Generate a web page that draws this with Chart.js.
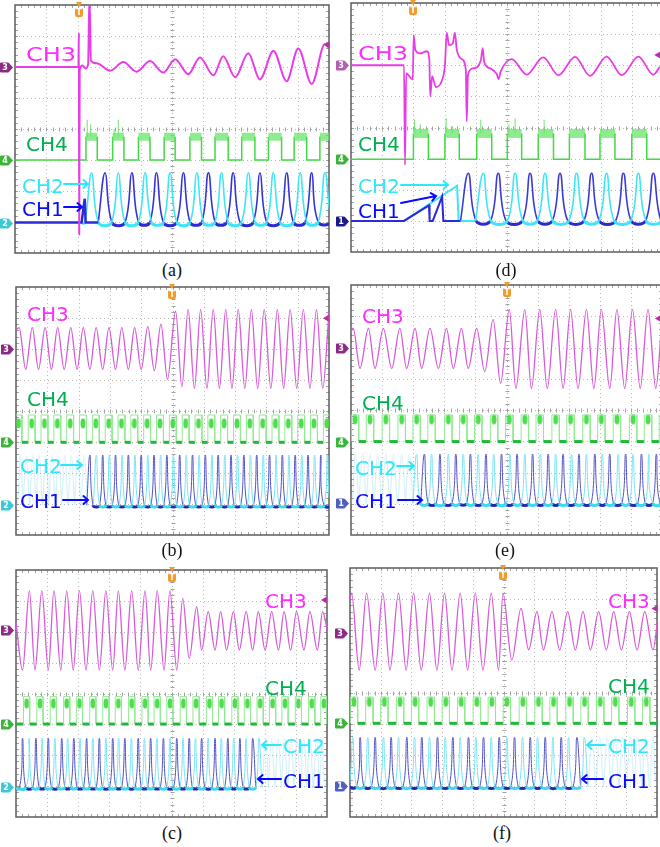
<!DOCTYPE html>
<html>
<head>
<meta charset="utf-8">
<script src="https://cdn.jsdelivr.net/npm/chart.js@4.4.1/dist/chart.umd.min.js"></script>
<style>
  body { margin: 0; width: 660px; height: 847px; overflow: hidden; background: #fff; position: relative; }
  canvas { position: absolute; }
  .lb { position: absolute; font-family: 'DejaVu Sans', sans-serif; font-size: 20px; line-height: 20px; white-space: nowrap; transform-origin: 0 0; }
  .cap { position: absolute; width: 40px; margin-left: -20px; text-align: center; font-family: 'Liberation Serif', serif; font-size: 18px; line-height: 18px; color: #111; }
  svg { position: absolute; left: 0; top: 0; }
</style>
</head>
<body>
<canvas id="pa"></canvas>
<canvas id="pd"></canvas>
<canvas id="pb"></canvas>
<canvas id="pe"></canvas>
<canvas id="pc"></canvas>
<canvas id="pf"></canvas>

<div class="lb" style="left:26px;top:44px;color:#ff2cff;transform:scaleX(1.2)">CH3</div>
<div class="lb" style="left:26px;top:134px;color:#00b050">CH4</div>
<div class="lb" style="left:22px;top:176px;color:#2ee8f8">CH2</div>
<div class="lb" style="left:22px;top:199px;color:#0a0aff">CH1</div>

<div class="lb" style="left:358px;top:43px;color:#ff2cff;transform:scaleX(1.2)">CH3</div>
<div class="lb" style="left:358px;top:134px;color:#00b050">CH4</div>
<div class="lb" style="left:358px;top:176px;color:#2ee8f8">CH2</div>
<div class="lb" style="left:358px;top:201px;color:#0a0aff">CH1</div>

<div class="lb" style="left:27px;top:304px;color:#ff2cff">CH3</div>
<div class="lb" style="left:27px;top:389px;color:#00b050">CH4</div>
<div class="lb" style="left:20px;top:456px;color:#2ee8f8">CH2</div>
<div class="lb" style="left:20px;top:491px;color:#0a0aff">CH1</div>

<div class="lb" style="left:362px;top:306px;color:#ff2cff">CH3</div>
<div class="lb" style="left:362px;top:393px;color:#00b050">CH4</div>
<div class="lb" style="left:355px;top:458px;color:#2ee8f8">CH2</div>
<div class="lb" style="left:355px;top:491px;color:#0a0aff">CH1</div>

<div class="lb" style="left:265px;top:591px;color:#ff2cff">CH3</div>
<div class="lb" style="left:265px;top:678px;color:#00b050">CH4</div>
<div class="lb" style="left:283px;top:736px;color:#2ee8f8">CH2</div>
<div class="lb" style="left:283px;top:771px;color:#0a0aff">CH1</div>

<div class="lb" style="left:608px;top:591px;color:#ff2cff">CH3</div>
<div class="lb" style="left:608px;top:676px;color:#00b050">CH4</div>
<div class="lb" style="left:608px;top:736px;color:#2ee8f8">CH2</div>
<div class="lb" style="left:608px;top:771px;color:#0a0aff">CH1</div>

<div class="cap" style="left:172px;top:261px">(a)</div>
<div class="cap" style="left:506px;top:261px">(d)</div>
<div class="cap" style="left:172px;top:541px">(b)</div>
<div class="cap" style="left:505px;top:541px">(e)</div>
<div class="cap" style="left:172px;top:824px">(c)</div>
<div class="cap" style="left:502px;top:824px">(f)</div>

<svg id="arrows" width="660" height="847"></svg>

<script>
// ---------- data (time in divisions 0..10, level in divisions 0..8) ----------

// (a)
const aCh3T = [0, 2.02, 2.035, 2.045, 2.06, 2.15, 2.25, 2.33, 2.37, 2.42, 2.60, 3.03, 3.45, 3.87, 4.30, 4.72, 5.10, 5.52, 5.89, 6.32, 6.63, 7.01, 7.43, 7.80, 8.23, 8.65, 9.02, 9.45, 9.87, 10];
const aCh3V = [6.0, 6.0, 7.1, 0.6, 5.9, 6.05, 5.95, 6.1, 8.3, 6.2, 6.12, 5.88, 6.16, 5.85, 6.19, 5.82, 6.25, 5.77, 6.31, 5.73, 6.35, 5.67, 6.44, 5.60, 6.52, 5.54, 6.60, 5.45, 6.74, 6.62];
const aCh4Up = [2.26, 3.11, 3.93, 4.75, 5.57, 6.37, 7.22, 8.07, 8.89, 9.71];
const aCh4Dn = [2.62, 3.47, 4.30, 5.10, 5.94, 6.79, 7.64, 8.49, 9.29, 10.1];
const aCh4Lv = [3.0, 3.75];
const aCh4SpkT = [2.30, 2.41, 3.16, 3.29];
const aCh4SpkV = [4.3, 4.15, 4.0, 4.3];
const aCh1LeadT = [0, 2.12, 2.22, 2.25, 2.65];
const aCh1LeadV = [0.98, 0.98, 1.75, 0.98, 0.98];
const aCh1Pk = [2.87, 3.72, 4.51, 5.36, 6.16, 6.95, 7.80, 8.65, 9.45];
const aCh2Pk = [2.44, 3.29, 4.14, 4.94, 5.79, 6.58, 7.43, 8.23, 9.08, 9.87];
const aCh12Lv = [0.98, 2.59];

// (d)
const dCh3T = [0, 1.70, 1.73, 1.77, 1.89, 1.98, 2.01, 2.06, 2.21, 2.43, 2.51, 2.54, 2.60, 2.72, 2.91, 3.01, 3.07, 3.14, 3.26, 3.33, 3.39, 3.55, 3.68, 3.71, 3.75, 3.92, 4.16, 4.22, 4.27, 4.46, 4.67, 4.73, 4.80, 5.15, 5.63, 6.16, 6.65, 7.18, 7.66, 8.19, 8.68, 9.21, 9.69, 9.90];
const dCh3V = [6.0, 6.0, 2.8, 5.75, 5.62, 5.55, 6.97, 6.5, 6.38, 6.45, 6.2, 5.0, 5.65, 5.3, 5.5, 6.0, 7.05, 6.65, 6.7, 7.05, 6.5, 6.2, 5.85, 4.2, 5.7, 5.9, 6.15, 6.55, 6.1, 5.9, 5.72, 5.55, 5.8, 6.2, 5.7, 6.25, 5.68, 6.27, 5.66, 6.28, 5.68, 6.28, 5.7, 5.95];
const dCh4Up = [2.0, 3.01, 4.03, 5.01, 6.0, 7.0, 7.98, 9.0];
const dCh4Dn = [2.48, 3.47, 4.51, 5.47, 6.49, 7.5, 8.46, 9.48];
const dCh4Lv = [2.98, 3.81];
const dCh4SpkT = [2.04, 2.22, 3.05, 3.26, 4.16, 5.06, 5.26, 6.19];
const dCh4SpkV = [4.25, 4.1, 4.3, 4.05, 4.25, 4.1, 4.3, 4.25];
const dCh1LeadT = [0, 1.70, 2.50, 2.52, 2.62, 2.92, 2.96, 3.51];
const dCh1LeadV = [1.0, 1.0, 1.5, 1.0, 1.0, 1.78, 1.0, 1.0];
const dCh2LeadT = [1.70, 3.40, 3.45, 3.99];
const dCh2LeadV = [1.0, 2.13, 1.0, 1.0];
const dCh1Pk = [3.76, 4.72, 5.74, 6.70, 7.71, 8.73, 9.69];
const dCh2Pk = [4.24, 5.26, 6.22, 7.23, 8.19, 9.21, 10.2];
const dCh12Lv = [1.0, 2.53];

// (b)
const bCh3T = [0, 0.10, 0.31, 0.52, 0.72, 0.93, 1.13, 1.33, 1.54, 1.75, 1.95, 2.15, 2.36, 2.56, 2.77, 2.97, 3.18, 3.38, 3.59, 3.79, 4.00, 4.21, 4.42, 4.63, 4.84, 5.10, 5.30, 5.50, 5.70, 5.90, 6.10, 6.30, 6.50, 6.70, 6.90, 7.10, 7.31, 7.52, 7.72, 7.93, 8.14, 8.35, 8.55, 8.76, 8.97, 9.18, 9.39, 9.60, 9.80, 10.0];
const bCh3V = [6.6, 6.69, 5.34, 6.69, 5.34, 6.69, 5.34, 6.69, 5.34, 6.69, 5.34, 6.69, 5.34, 6.69, 5.34, 6.69, 5.34, 6.69, 5.34, 6.69, 5.34, 6.72, 5.30, 6.80, 5.02, 7.22, 4.78, 7.28, 4.73, 7.28, 4.73, 7.28, 4.73, 7.28, 4.73, 7.28, 4.73, 7.28, 4.73, 7.28, 4.73, 7.28, 4.73, 7.28, 4.73, 7.28, 4.73, 7.28, 4.73, 7.20];
const bCh4C = [0.08, 0.50, 0.91, 1.32, 1.73, 2.14, 2.55, 2.96, 3.37, 3.78, 4.19, 4.60, 5.01, 5.42, 5.83, 6.24, 6.65, 7.06, 7.47, 7.88, 8.29, 8.70, 9.11, 9.52, 9.93];
const bCh4Lv = [2.99, 3.87, 3.6];
const bCh1Pk = [2.36, 2.77, 3.18, 3.59, 4.00, 4.41, 4.82, 5.23, 5.64, 6.05, 6.46, 6.87, 7.28, 7.69, 8.10, 8.51, 8.92, 9.33, 9.74];
const bCh2Pk = [2.57, 2.98, 3.39, 3.80, 4.21, 4.62, 5.03, 5.44, 5.85, 6.26, 6.67, 7.08, 7.49, 7.90, 8.31, 8.72, 9.13, 9.54, 9.95];
const bFaintPk = [0.13, 0.33, 0.54, 0.74, 0.95, 1.15, 1.36, 1.56, 1.77, 1.97, 2.18];
const bCh12Lv = [0.96, 2.58];

// (e)
const eCh3T = [0, 0.07, 0.29, 0.56, 0.77, 1.04, 1.31, 1.57, 1.79, 2.06, 2.27, 2.54, 2.81, 3.07, 3.29, 3.55, 3.77, 4.04, 4.30, 4.57, 4.81, 5.09, 5.30, 5.59, 5.80, 6.07, 6.31, 6.58, 6.82, 7.06, 7.30, 7.57, 7.81, 8.05, 8.32, 8.55, 8.80, 9.05, 9.30, 9.55, 9.80, 10.0];
const eCh3V = [6.5, 6.61, 5.33, 6.61, 5.33, 6.61, 5.33, 6.61, 5.33, 6.61, 5.33, 6.61, 5.33, 6.61, 5.33, 6.61, 5.33, 6.61, 5.23, 6.90, 4.85, 7.22, 4.69, 7.22, 4.69, 7.22, 4.69, 7.22, 4.69, 7.22, 4.69, 7.22, 4.69, 7.22, 4.69, 7.22, 4.69, 7.22, 4.69, 7.22, 4.69, 6.9];
const eCh4C = [0.13, 0.61, 1.12, 1.63, 2.11, 2.59, 3.13, 3.61, 4.09, 4.60, 5.09, 5.59, 6.07, 6.58, 7.06, 7.57, 8.05, 8.55, 9.07, 9.55, 10.03];
const eCh4Lv = [2.99, 3.84, 3.7];
const eCh1Pk = [2.36, 2.86, 3.37, 3.84, 4.34, 4.84, 5.34, 5.84, 6.34, 6.82, 7.33, 7.84, 8.32, 8.83, 9.34, 9.82];
const eCh2Pk = [2.11, 2.59, 3.13, 3.61, 4.09, 4.59, 5.11, 5.59, 6.09, 6.58, 7.09, 7.57, 8.08, 8.59, 9.07, 9.58];
const eFaintPk = [0.13, 0.37, 0.61, 0.86, 1.12, 1.37, 1.63, 1.87];
const eCh12Lv = [1.01, 2.59];

// (c)
const cCh3T = [0, 0.21, 0.43, 0.61, 0.83, 1.04, 1.22, 1.44, 1.63, 1.84, 2.04, 2.25, 2.47, 2.68, 2.89, 3.11, 3.29, 3.50, 3.72, 3.93, 4.15, 4.33, 4.54, 4.76, 4.95, 5.17, 5.36, 5.57, 5.81, 5.97, 6.18, 6.40, 6.58, 6.77, 6.99, 7.18, 7.40, 7.61, 7.79, 8.01, 8.22, 8.44, 8.62, 8.83, 9.02, 9.26, 9.45, 9.69, 9.86, 10.0];
const cCh3V = [6.3, 4.76, 7.33, 4.76, 7.33, 4.76, 7.33, 4.76, 7.33, 4.76, 7.33, 4.76, 7.33, 4.76, 7.33, 4.76, 7.33, 4.76, 7.33, 4.76, 7.33, 4.76, 7.33, 4.76, 7.33, 4.76, 7.08, 5.14, 6.81, 5.41, 6.65, 5.41, 6.65, 5.41, 6.65, 5.41, 6.65, 5.41, 6.65, 5.41, 6.65, 5.41, 6.65, 5.41, 6.65, 5.41, 6.65, 5.41, 6.65, 6.1];
const cCh4C = [0.34, 0.77, 1.20, 1.63, 2.04, 2.47, 2.89, 3.29, 3.72, 4.15, 4.54, 4.95, 5.38, 5.79, 6.22, 6.61, 7.04, 7.44, 7.85, 8.25, 8.65, 9.08, 9.51, 9.90];
const cCh4Lv = [3.01, 3.9, 3.68];
const cCh1Pk = [0.21, 0.64, 1.04, 1.47, 1.86, 2.27, 2.68, 3.11, 3.50, 3.93, 4.33, 4.74, 5.17, 5.57, 5.97, 6.40, 6.81, 7.20, 7.61];
const cCh2Pk = [0.42, 0.84, 1.25, 1.66, 2.06, 2.47, 2.89, 3.30, 3.71, 4.13, 4.53, 4.95, 5.37, 5.77, 6.18, 6.60, 7.00, 7.40, 7.81];
const cFaintPk = [8.02, 8.22, 8.43, 8.63, 8.84, 9.04, 9.25, 9.45, 9.66, 9.86];
const cCh12Lv = [0.96, 2.55];

// (f)
const fCh3T = [0, 0.05, 0.30, 0.54, 0.82, 1.07, 1.30, 1.58, 1.83, 2.07, 2.32, 2.59, 2.83, 3.08, 3.32, 3.59, 3.83, 4.08, 4.33, 4.60, 4.84, 4.98, 5.27, 5.57, 5.82, 6.09, 6.30, 6.58, 6.83, 7.09, 7.34, 7.59, 7.83, 8.10, 8.35, 8.59, 8.84, 9.10, 9.35, 9.60, 9.87, 10.05];
const fCh3V = [7.0, 7.19, 4.72, 7.19, 4.72, 7.19, 4.72, 7.19, 4.72, 7.19, 4.72, 7.19, 4.72, 7.19, 4.72, 7.19, 4.72, 7.19, 4.72, 7.19, 4.72, 7.19, 5.04, 6.70, 5.37, 6.60, 5.37, 6.60, 5.37, 6.60, 5.37, 6.60, 5.37, 6.60, 5.37, 6.60, 5.37, 6.60, 5.37, 6.60, 5.37, 6.60];
const fCh4C = [0.13, 0.63, 1.12, 1.63, 2.12, 2.63, 3.12, 3.62, 4.13, 4.62, 5.11, 5.63, 6.14, 6.63, 7.15, 7.64, 8.15, 8.64, 9.16, 9.65];
const fCh4Lv = [3.01, 3.85, 3.7];
const fCh1Pk = [0.33, 0.82, 1.34, 1.85, 2.34, 2.85, 3.35, 3.86, 4.35, 4.86, 5.36, 5.87, 6.36, 6.88, 7.39];
const fCh2Pk = [0.09, 0.58, 1.09, 1.58, 2.10, 2.59, 3.10, 3.59, 4.10, 4.60, 5.11, 5.62, 6.11, 6.61, 7.12, 7.63];
const fFaintPk = [7.88, 8.13, 8.38, 8.63, 8.88, 9.13, 9.38, 9.63, 9.88];
const fCh12Lv = [0.98, 2.56];

// ---------- helpers ----------
const pts = (t, v) => t.map((x, i) => ({ x, y: v[i] }));

function L(data, color, width, more) {
  return Object.assign({ data, borderColor: color, borderWidth: width, pointRadius: 0, fill: false, tension: 0, spanGaps: false }, more || {});
}

function squares(up, dn, lv) {
  const o = [{ x: -0.3, y: lv[0] }];
  up.forEach((u, i) => o.push({ x: u, y: lv[0] }, { x: u, y: lv[1] }, { x: dn[i], y: lv[1] }, { x: dn[i], y: lv[0] }));
  o.push({ x: 10.3, y: lv[0] });
  return o;
}

function spikes(t, v, base) {
  const o = [];
  t.forEach((x, i) => o.push({ x, y: base }, { x, y: v[i] }, { x, y: null }));
  return o;
}

function humps(pk, lv, hw, x0, x1) {
  const o = [];
  if (x0 != null) o.push({ x: x0, y: lv[0] });
  pk.forEach(p => o.push({ x: p - hw, y: lv[0] }, { x: p, y: lv[1] }, { x: p + hw, y: lv[0] }));
  if (x1 != null) o.push({ x: x1, y: lv[0] });
  return o;
}

const level = (s, v) => s.p0.parsed.y === v && s.p1.parsed.y === v;

function blobImg(w, h, color) {
  const c = document.createElement('canvas');
  c.width = w; c.height = h;
  const g = c.getContext('2d');
  g.fillStyle = color;
  g.beginPath();
  g.ellipse(w / 2, h / 2, w / 2 - 0.5, h / 2 - 0.5, 0, 0, Math.PI * 2);
  g.fill();
  return c;
}
const blob = blobImg(6, 11, '#4fdc4f');

function ch4Bright(up, dn, lv, spT, spV, band) {
  return [
    L(squares(up, dn, lv), '#44d844', 1.5, {
      order: 4,
      segment: {
        borderWidth: s => level(s, lv[1]) ? band : undefined,
        borderColor: s => level(s, lv[1]) ? 'rgba(105,228,105,0.75)' : undefined
      }
    }),
    L(spikes(spT, spV, lv[1]), '#74e274', 1, { order: 4 })
  ];
}

function ch4Dense(c, hw, lv) {
  const up = c.map(v => v - hw), dn = c.map(v => v + hw);
  return [
    L(squares(up, dn, lv), '#92ea92', 1, {
      order: 4,
      segment: {
        borderWidth: s => level(s, lv[0]) ? 3 : undefined,
        borderColor: s => level(s, lv[0]) ? '#1fb83a' : undefined
      }
    }),
    L(c.map(v => ({ x: v, y: lv[2] })), '#4fdc4f', 0, { showLine: false, pointRadius: 5, pointStyle: blob, order: 4 })
  ];
}

// rounded pulse trains: bezier tension gives steep flanks and a round top
function pulseSet(data, lv, color, baseColor, w, bw, order) {
  return L(data, color, w, {
    tension: 0.4, order,
    segment: {
      borderWidth: s => level(s, lv[0]) ? bw : undefined,
      borderColor: s => level(s, lv[0]) ? baseColor : undefined
    }
  });
}

function ch12Dense(pk1, pk2, faint, hw, lv, pre) {
  const start = Math.min(pk1[0], pk2[0]) - hw;
  const end = Math.max(pk1[pk1.length - 1], pk2[pk2.length - 1]) + hw;
  return [
    pulseSet(humps(pk2, lv, hw, pre ? null : -0.2, pre ? 10.3 : null), lv, '#7ae4f3', '#3cd8ec', 1, 3, 2),
    pulseSet(humps(pk1, lv, hw, pre ? null : -0.2, pre ? 10.3 : null), lv, '#5252c6', '#2626b4', 1, 3, 3),
    L(humps(faint, lv, hw, pre ? -0.2 : end, pre ? start : 10.3), 'rgba(130,210,240,0.32)', 1.2, { tension: 0.4, order: 5 })
  ];
}

// ---------- scope look: grid, frame, channel markers ----------
const scopePlugin = {
  id: 'scope',
  beforeDatasetsDraw(chart) {
    const { ctx, chartArea: a, scales: { x, y } } = chart;
    ctx.save();
    ctx.lineWidth = 1;
    ctx.strokeStyle = '#b9b9b9';
    ctx.setLineDash([1, 3]);
    ctx.beginPath();
    for (let i = 1; i < 10; i++) {
      const px = Math.round(x.getPixelForValue(i)) + 0.5;
      ctx.moveTo(px, a.top); ctx.lineTo(px, a.bottom);
    }
    for (let j = 1; j < 8; j++) {
      const py = Math.round(y.getPixelForValue(j)) + 0.5;
      ctx.moveTo(a.left, py); ctx.lineTo(a.right, py);
    }
    ctx.stroke();
    ctx.setLineDash([]);
    ctx.strokeStyle = '#a2a2a2';
    ctx.beginPath();
    const cx = Math.round(x.getPixelForValue(5)) + 0.5;
    const cy = Math.round(y.getPixelForValue(4)) + 0.5;
    for (let k = 1; k < 50; k++) {
      const px = Math.round(x.getPixelForValue(k / 5)) + 0.5;
      ctx.moveTo(px, cy - 2); ctx.lineTo(px, cy + 2);
      ctx.moveTo(px, a.top); ctx.lineTo(px, a.top + 3);
      ctx.moveTo(px, a.bottom); ctx.lineTo(px, a.bottom - 3);
    }
    for (let k = 1; k < 40; k++) {
      const py = Math.round(y.getPixelForValue(k / 5)) + 0.5;
      ctx.moveTo(cx - 2, py); ctx.lineTo(cx + 2, py);
      ctx.moveTo(a.left, py); ctx.lineTo(a.left + 3, py);
      ctx.moveTo(a.right, py); ctx.lineTo(a.right - 3, py);
    }
    ctx.stroke();
    ctx.strokeStyle = '#5c5c5c';
    ctx.lineWidth = 1.5;
    ctx.strokeRect(a.left, a.top, a.width, a.height);
    ctx.restore();
  },
  afterDraw(chart, args, o) {
    const { ctx, chartArea: a, scales: { x, y } } = chart;
    ctx.save();
    ctx.font = 'bold 8px "DejaVu Sans"';
    ctx.textAlign = 'center';
    ctx.textBaseline = 'middle';
    (o.marks || []).forEach(m => {
      const py = Math.round(y.getPixelForValue(m.v)) + 0.5;
      const l = a.left - 14.5;
      ctx.beginPath();
      ctx.moveTo(l, py - 4.5); ctx.lineTo(l + 8, py - 4.5); ctx.lineTo(l + 12, py);
      ctx.lineTo(l + 8, py + 4.5); ctx.lineTo(l, py + 4.5); ctx.closePath();
      ctx.fillStyle = m.fill ? m.c : '#fff';
      ctx.fill();
      ctx.lineWidth = 1;
      ctx.strokeStyle = m.c;
      ctx.stroke();
      ctx.fillStyle = m.fill ? '#fff' : m.c;
      ctx.fillText(m.t, l + 4.5, py + 0.5);
    });
    const tx = Math.round(x.getPixelForValue(o.trig));
    ctx.fillStyle = '#f39a2a';
    ctx.beginPath();
    ctx.moveTo(tx - 3, a.top - 3); ctx.lineTo(tx + 3, a.top - 3); ctx.lineTo(tx, a.top + 2); ctx.closePath();
    ctx.fill();
    ctx.beginPath();
    ctx.roundRect(tx - 4, a.top + 3, 8, 9, 2);
    ctx.fill();
    ctx.fillStyle = '#fff';
    ctx.fillText('T', tx, a.top + 8);
    const rx = x.getPixelForValue(o.rx), ry = y.getPixelForValue(o.ry);
    ctx.fillStyle = '#b8309f';
    ctx.beginPath();
    ctx.moveTo(rx - 4, ry); ctx.lineTo(rx + 2, ry - 3.5); ctx.lineTo(rx + 2, ry + 3.5); ctx.closePath();
    ctx.fill();
    ctx.restore();
  }
};

function scope(id, box, datasets, deco) {
  const cv = document.getElementById(id);
  cv.width = box[2] + 22;
  cv.height = box[3] + 12;
  cv.style.left = (box[0] - 16) + 'px';
  cv.style.top = (box[1] - 6) + 'px';
  return new Chart(cv, {
    type: 'line',
    data: { datasets },
    options: {
      responsive: false,
      animation: false,
      events: [],
      layout: { padding: { left: 16, top: 6, right: 6, bottom: 6 } },
      plugins: { legend: { display: false }, tooltip: { enabled: false }, scope: deco },
      scales: {
        x: { type: 'linear', min: 0, max: 10, display: false },
        y: { type: 'linear', min: 0, max: 8, display: false }
      }
    },
    plugins: [scopePlugin]
  });
}

// plot boxes in page pixels: left, top, width, height
const boxes = {
  a: [15, 5, 314, 248],
  d: [351, 3, 312, 249],
  b: [16, 287, 313, 248],
  e: [351, 285, 311, 250],
  c: [16, 570, 311, 247],
  f: [350, 568, 307, 249]
};

const purple = '#8e2a86', green4 = '#3cb43c', cyan2 = '#3cc8d8', navy1 = '#1a1a8a';

scope('pa', boxes.a, [
  L(pts(aCh3T, aCh3V), '#e83ce8', 2, { cubicInterpolationMode: 'monotone', order: 0 }),
  ...ch4Bright(aCh4Up, aCh4Dn, aCh4Lv, aCh4SpkT, aCh4SpkV, 8),
  L(pts(aCh1LeadT, aCh1LeadV), '#2b2bd9', 2.5, { order: 1 }),
  pulseSet(humps(aCh2Pk, aCh12Lv, 0.22, 2.1, 10.3), aCh12Lv, '#3ee6f5', '#3ee6f5', 1.6, 3, 2),
  pulseSet(humps(aCh1Pk, aCh12Lv, 0.22, null, 10.3), aCh12Lv, '#3434d6', '#2b2bd0', 1.6, 3, 3)
], { trig: 2.04, rx: 9.95, ry: 6.72, marks: [
  { v: 6.0, t: '3', c: purple, fill: true }, { v: aCh4Lv[0], t: '4', c: green4 }, { v: aCh12Lv[0], t: '2', c: cyan2 }] });

scope('pd', boxes.d, [
  L(pts(dCh3T, dCh3V), '#e83ce8', 1.8, { cubicInterpolationMode: 'monotone', order: 0 }),
  ...ch4Bright(dCh4Up, dCh4Dn, dCh4Lv, dCh4SpkT, dCh4SpkV, 9),
  L(pts(dCh1LeadT, dCh1LeadV), '#2b2bd9', 2, { order: 1 }),
  L(pts(dCh2LeadT, dCh2LeadV), '#3ee6f5', 2, { order: 1.5 }),
  pulseSet(humps(dCh2Pk, dCh12Lv, 0.25, null, 10.3), dCh12Lv, '#3ee6f5', '#3ee6f5', 1.6, 3, 2),
  pulseSet(humps(dCh1Pk, dCh12Lv, 0.25, null, 10.3), dCh12Lv, '#3a3ad6', '#2b2bd0', 1.6, 3, 3)
], { trig: 2.0, rx: 9.85, ry: 6.33, marks: [
  { v: 6.0, t: '3', c: '#b060b0' }, { v: dCh4Lv[0], t: '4', c: green4 }, { v: dCh12Lv[0], t: '1', c: navy1, fill: true }] });

scope('pb', boxes.b, [
  L(pts(bCh3T, bCh3V), '#d85ad8', 1.3, { cubicInterpolationMode: 'monotone', order: 0 }),
  ...ch4Dense(bCh4C, 0.11, bCh4Lv),
  ...ch12Dense(bCh1Pk, bCh2Pk, bFaintPk, 0.1, bCh12Lv, true)
], { trig: 4.97, rx: 9.93, ry: 6.99, marks: [
  { v: 6.0, t: '3', c: purple, fill: true }, { v: bCh4Lv[0], t: '4', c: green4 }, { v: bCh12Lv[0], t: '2', c: cyan2 }] });

scope('pe', boxes.e, [
  L(pts(eCh3T, eCh3V), '#d85ad8', 1.3, { cubicInterpolationMode: 'monotone', order: 0 }),
  ...ch4Dense(eCh4C, 0.12, eCh4Lv),
  ...ch12Dense(eCh1Pk, eCh2Pk, eFaintPk, 0.12, eCh12Lv, true)
], { trig: 5.0, rx: 9.9, ry: 6.93, marks: [
  { v: 5.97, t: '3', c: purple, fill: true }, { v: eCh4Lv[0], t: '4', c: green4 }, { v: eCh12Lv[0], t: '1', c: '#5060c0' }] });

scope('pc', boxes.c, [
  L(pts(cCh3T, cCh3V), '#d85ad8', 1.3, { cubicInterpolationMode: 'monotone', order: 0 }),
  ...ch4Dense(cCh4C, 0.1, cCh4Lv),
  ...ch12Dense(cCh1Pk, cCh2Pk, cFaintPk, 0.1, cCh12Lv, false)
], { trig: 5.0, rx: 9.93, ry: 7.03, marks: [
  { v: 6.06, t: '3', c: purple, fill: true }, { v: cCh4Lv[0], t: '4', c: green4 }, { v: cCh12Lv[0], t: '2', c: cyan2 }] });

scope('pf', boxes.f, [
  L(pts(fCh3T, fCh3V), '#d85ad8', 1.3, { cubicInterpolationMode: 'monotone', order: 0 }),
  ...ch4Dense(fCh4C, 0.12, fCh4Lv),
  ...ch12Dense(fCh1Pk, fCh2Pk, fFaintPk, 0.12, fCh12Lv, false)
], { trig: 4.98, rx: 9.95, ry: 6.7, marks: [
  { v: 5.92, t: '3', c: purple, fill: true }, { v: fCh4Lv[0], t: '4', c: green4 }, { v: fCh12Lv[0], t: '1', c: '#5060c0' }] });

// ---------- label arrows ----------
const arrows = [
  [64, 184, 88, 184, '#2ee8f8'], [64, 207, 82, 207, '#0a0aff'],
  [401, 185, 448, 185, '#2ee8f8'], [401, 203, 436, 196, '#0a0aff'],
  [61, 465, 82, 465, '#2ee8f8'], [63, 500, 88, 500, '#0a0aff'],
  [397, 466, 414, 466, '#2ee8f8'], [398, 500, 422, 500, '#0a0aff'],
  [281, 745, 262, 745, '#2ee8f8'], [281, 779, 258, 779, '#0a0aff'],
  [605, 745, 587, 745, '#2ee8f8'], [603, 779, 582, 779, '#0a0aff']
];
const svg = document.getElementById('arrows');
let paths = '';
arrows.forEach(([x1, y1, x2, y2, c]) => {
  const ang = Math.atan2(y2 - y1, x2 - x1);
  const h = 6;
  const ax = x2 - h * Math.cos(ang - 0.7), ay = y2 - h * Math.sin(ang - 0.7);
  const bx = x2 - h * Math.cos(ang + 0.7), by = y2 - h * Math.sin(ang + 0.7);
  paths += `<path d="M${x1} ${y1}L${x2} ${y2}M${ax.toFixed(1)} ${ay.toFixed(1)}L${x2} ${y2}L${bx.toFixed(1)} ${by.toFixed(1)}" stroke="${c}" stroke-width="2" fill="none" stroke-linecap="round"/>`;
});
svg.innerHTML = paths;
</script>
</body>
</html>
